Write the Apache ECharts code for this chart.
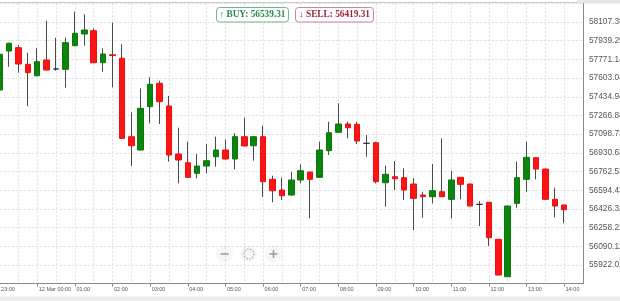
<!DOCTYPE html>
<html><head><meta charset="utf-8">
<script src="https://cdn.jsdelivr.net/npm/echarts@6/dist/echarts.min.js"></script>
<style>html,body{margin:0;padding:0;background:#fff;overflow:hidden}#c{width:620px;height:301px}</style>
</head><body><div id="c"></div>
<script>
const categories = ['23:00','23:15','23:30','23:45',
'00:00','00:15','00:30','00:45','01:00','01:15','01:30','01:45','02:00','02:15','02:30','02:45',
'03:00','03:15','03:30','03:45','04:00','04:15','04:30','04:45','05:00','05:15','05:30','05:45',
'06:00','06:15','06:30','06:45','07:00','07:15','07:30','07:45','08:00','08:15','08:30','08:45',
'09:00','09:15','09:30','09:45','10:00','10:15','10:30','10:45','11:00','11:15','11:30','11:45',
'12:00','12:15','12:30','12:45','13:00','13:15','13:30','13:45','14:00','14:15','14:30'];
const dayLabel = '12 Mar';
const opens = [57496,57846.5,57876.2,57726.9,57624.4,57765.6,57684.6,57681.9,57894.2,57999.4,58029.1,57741.3,57812.4,57780.9,57075.7,56956.1,
57345.6,57556.0,57351.9,56920.1,56841.9,56746.6,56812.2,56895.9,56956.1,56875.2,57075.7,56994.8,
57075.7,56692.6,56596.4,56551.4,56686.3,56758.3,56710.6,56949.8,57115.3,57190.0,57187.3,57016.4,
57021.8,56662.0,56716.0,56707.0,56650.3,56551.4,56536.1,56581.1,56512.7,56710.6,56650.3,56467.8,
56485.7,56153.0,55816.6,56476.7,56692.6,56886.9,56785.2,56512.7,56461.5];
const closes = [57817,57915.8,57729.6,57651.4,57750.3,57675.6,57684.6,57921.2,58005.7,58035.4,57741.3,57819.5,57806.1,57061.4,56994.8,57331.2,
57547.0,57390.5,56911.2,56866.2,56710.6,56812.2,56859.9,56956.1,56875.2,57075.7,56992.1,57075.7,
56671.0,56590.1,56545.1,56686.3,56769.9,56692.6,56956.1,57111.7,57190.0,57156.7,57037.1,57016.4,
56671.0,56737.6,56698.0,56596.4,56521.7,56536.1,56590.1,56536.1,56686.3,56647.6,56452.5,56467.8,
56167.4,55831.9,56452.5,56707.0,56890.5,56785.2,56512.7,56452.5,56419.31];
const lows = [57478,57705.3,57651.4,57351.9,57620,57672,57669.3,57516.4,57890,57894.2,57738,57660.4,57520.0,57055.0,56812.2,56952,
57196.3,57190.0,56850.9,56656.6,56705,56701.6,56746.6,56805.9,56870,56782.5,56990,56859.9,
56536.1,56485.7,56506.4,56548,56656.6,56341.8,56708,56911.2,57112,57061.4,57010.1,56895.9,
56656.6,56446.2,56596.4,56506.4,56236.6,56347.2,56476.7,56533,56341.8,56512.7,56449,56272.6,
56092.7,55829,55814,56437.2,56581.1,56692.6,56510,56350.8,56296.9];
const highs = [57838,57921.2,57900.5,57831.2,57870.8,58119.0,57966.2,57966.2,58200.0,58176.6,58050.7,57870.8,58101.1,57906.8,57295.2,57511.1,
57610.0,57579.4,57441.8,57156.7,57030.8,56920.1,57010.1,57075.7,57052.4,57106.3,57246.6,57078,
57174.7,56725.0,56707.0,56761.0,56827.5,56761,57030.8,57210.7,57376.1,57210.7,57210.7,57091.0,
57030.8,56814.9,56857.2,56791.5,56701.6,56581.1,56830.2,57061.4,56769.9,56713,56653,56497.4,
56488,56156,56455,56850.9,57030.8,56890,56788,56617.1,56464];
const yTopTick = 58107.35;
const yStep = 168.1027;
const buyPrice = 56539.31;
const sellPrice = 56419.31;

const wickData = opens.map((o, i) => [o, closes[i], lows[i], highs[i]]);
const bodyData = opens.map((o, i) => [o, closes[i], Math.min(o, closes[i]), Math.max(o, closes[i])]);

const chart = echarts.init(document.getElementById('c'), null, {renderer: 'canvas'});
const gridLine = {color: '#dedede', type: [2, 2], width: 1};
chart.setOption({
  animation: false,
  grid: {left: -0.4, right: 37, top: 3.3, bottom: 17.3, containLabel: false, outerBoundsMode: 'none'},
  xAxis: {
    type: 'category', data: categories, boundaryGap: false,
    axisLine: {lineStyle: {color: '#8a8a8a'}},
    axisTick: {interval: 3, length: 3, lineStyle: {color: '#8a8a8a'}},
    axisLabel: {interval: 3, align: 'left', margin: 3, fontSize: 5.5, color: '#555',
      fontFamily: 'Liberation Sans, Arial, sans-serif', padding: [0, 0, 0, 1.5],
      formatter: v => v === '00:00' ? dayLabel + ' ' + v : v},
    splitLine: {show: true, interval: 1, lineStyle: gridLine}
  },
  yAxis: {
    type: 'value', position: 'right',
    min: yTopTick - 14 * yStep, max: yTopTick + yStep, interval: yStep,
    axisLine: {show: true, lineStyle: {color: '#8a8a8a'}},
    axisTick: {show: false},
    axisLabel: {margin: 6, fontSize: 8.3, color: '#555', fontFamily: 'Liberation Sans, Arial, sans-serif',
      showMinLabel: false, showMaxLabel: false, formatter: v => v.toFixed(2)},
    splitLine: {show: true, lineStyle: gridLine}
  },
  series: [
    {type: 'candlestick', data: wickData, barWidth: 1, silent: true, z: 2,
     itemStyle: {color: '#4a4a4a', color0: '#4a4a4a', borderColor: '#4a4a4a', borderColor0: '#4a4a4a', borderColorDoji: '#4a4a4a', borderWidth: 1}},
    {type: 'candlestick', data: bodyData, barWidth: 6, silent: true, z: 3,
     itemStyle: {color: '#0b850b', color0: '#ff1414', borderColor: '#0a780a', borderColor0: '#ee1010', borderColorDoji: '#333', borderWidth: 1}}
  ],
  graphic: [
    {type: 'line', shape: {x1: 0, y1: 2.5, x2: 577, y2: 2.5}, style: {stroke: '#c9c9c9', lineWidth: 1}, silent: true},
    {type: 'rect', shape: {x: 577, y: 0, width: 43, height: 3.5}, style: {fill: '#e6e6e6'}, silent: true},
    {type: 'rect', shape: {x: 0, y: 296.5, width: 620, height: 5}, style: {fill: '#ececec'}, silent: true},
    {type: 'rect', shape: {x: 216.5, y: 7.5, width: 72, height: 14.5, r: 3}, style: {fill: '#fff', stroke: '#6bb88a', lineWidth: 1}, silent: true, z: 10},
    {type: 'text', x: 252.5, y: 15, style: {text: '\u2191 BUY: ' + buyPrice.toFixed(2), fill: '#2a8a4c', font: 'bold 9.3px "Liberation Serif", "DejaVu Serif", serif', textAlign: 'center', textVerticalAlign: 'middle'}, silent: true, z: 11},
    {type: 'rect', shape: {x: 295.5, y: 7.5, width: 78, height: 14.5, r: 3}, style: {fill: '#fff', stroke: '#c48a95', lineWidth: 1}, silent: true, z: 10},
    {type: 'text', x: 334.5, y: 15, style: {text: '\u2193 SELL: ' + sellPrice.toFixed(2), fill: '#a3263a', font: 'bold 9.3px "Liberation Serif", "DejaVu Serif", serif', textAlign: 'center', textVerticalAlign: 'middle'}, silent: true, z: 11},
    {type: 'circle', shape: {cx: 224.5, cy: 254, r: 8.5}, style: {fill: 'rgba(0,0,0,0.035)'}, silent: true, z: 10},
    {type: 'circle', shape: {cx: 249, cy: 254, r: 8.5}, style: {fill: 'rgba(0,0,0,0.035)'}, silent: true, z: 10},
    {type: 'circle', shape: {cx: 273.5, cy: 254, r: 8.5}, style: {fill: 'rgba(0,0,0,0.035)'}, silent: true, z: 10},
    {type: 'line', shape: {x1: 220.5, y1: 254, x2: 228.5, y2: 254}, style: {stroke: '#999', lineWidth: 1.5}, silent: true, z: 11},
    {type: 'circle', shape: {cx: 249, cy: 254, r: 5}, style: {fill: 'none', stroke: '#aaa', lineWidth: 1.2, lineDash: [1.5, 1.5]}, silent: true, z: 11},
    {type: 'line', shape: {x1: 269.5, y1: 254, x2: 277.5, y2: 254}, style: {stroke: '#999', lineWidth: 1.5}, silent: true, z: 11},
    {type: 'line', shape: {x1: 273.5, y1: 250, x2: 273.5, y2: 258}, style: {stroke: '#999', lineWidth: 1.5}, silent: true, z: 11}
  ]
});
</script>
</body></html>
